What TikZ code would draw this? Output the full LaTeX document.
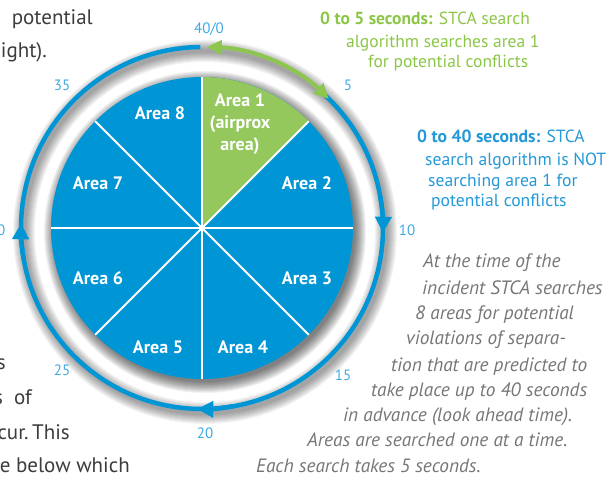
\documentclass[tikz,border=0pt]{standalone}
\usepackage{fontspec}
\setmainfont{PT Sans}
\usetikzlibrary{arrows.meta}

\definecolor{areablue}{RGB}{0,150,214}
\definecolor{areagreen}{RGB}{148,200,92}
\definecolor{arcgreen}{RGB}{140,198,78}
\definecolor{numblue}{RGB}{64,170,226}
\definecolor{txtblue}{RGB}{36,152,216}
\definecolor{txtgreen}{RGB}{140,198,70}
\definecolor{notegrey}{RGB}{118,118,118}
\definecolor{bodygrey}{RGB}{60,60,60}

\tikzset{
  area/.style={text=white, font=\fontsize{18}{22}\selectfont\bfseries, align=center},
  num/.style={text=numblue, font=\fontsize{15}{18}\selectfont},
  ring/.style={areablue, line width=4.5pt},
  ringtip/.style={ring, -{Triangle[length=16pt,width=16pt]}},
  sep/.style={white, line width=2pt},
  greenline/.style={text=txtgreen, font=\fontsize{17.5}{20}\selectfont, anchor=base west, inner sep=0pt},
  blueline/.style={text=txtblue, font=\fontsize{17.6}{20}\selectfont, anchor=base west, inner sep=0pt},
  note/.style={text=notegrey, font=\fontsize{19.3}{22}\selectfont\itshape, anchor=base west, inner sep=0pt},
  body/.style={text=bodygrey, font=\fontsize{21}{24}\selectfont, anchor=base east, inner sep=0pt},
}

\begin{document}
\begin{tikzpicture}[x=1pt,y=1pt]
\useasboundingbox (0,0) rectangle (607,476);
\coordinate (C) at (202,248);

% soft shadow under the pie and the ring
\foreach \i in {1,...,12}
  \fill[black,opacity=0.055] ([shift={(3,-4)}]C) circle ({149+\i});
\foreach \w in {4,6,...,22}
  \draw[black,opacity=0.045,line width=\w pt] ([shift={(3,-4)}]C) circle (181);

% the eight search areas
\fill[areablue] (C) circle (151);
\fill[areagreen] (C) -- ++(45:151) arc (45:90:151) -- cycle;
\foreach \a in {0,45,...,315}
  \draw[sep] (C) -- ++(\a:151);

\node[area] (a1) at (240,352) {Area 1\\(airprox\\area)};
\node[area] (a2) at (307,293) {Area 2};
\node[area] (a3) at (307,198) {Area 3};
\node[area] (a4) at (243,129) {Area 4};
\node[area] (a5) at (158,129) {Area 5};
\node[area] (a6) at (98,198) {Area 6};
\node[area] (a7) at (98,293) {Area 7};
\node[area] (a8) at (160,363) {Area 8};

% time ring, 40 seconds round
\draw[ring] (C) ++(47:181) arc (47:-269.5:181);
\foreach \a in {0,-90,-180}
  \draw[ringtip] (C) ++(\a+10:181) arc (\a+10:\a-1.5:181);
\draw[arcgreen, line width=4pt, {Triangle[length=15pt,width=14pt]}-{Triangle[length=15pt,width=14pt]}]
  (C) ++(88.5:181) arc (88.5:45.5:181);

\node[num] (t0) at (209,447) {40/0};
\node[num] (t5) at (348,391) {5};
\node[num] (t10) at (407,246) {10};
\node[num] (t15) at (343,101) {15};
\node[num] (t20) at (205,43) {20};
\node[num] (t25) at (62,106) {25};
\node[num] (t30) at (-3,246) {30};
\node[num] (t35) at (62,391) {35};

% captions
\node[greenline] (g1) at (320,451) {\textbf{0 to 5 seconds:} STCA search};
\node[greenline] (g2) at (346,428) {algorithm searches area 1};
\node[greenline] (g3) at (368,408) {for potential conflicts};

\node[blueline] (b1) at (417,333) {\textbf{0 to 40 seconds:} STCA};
\node[blueline] (b2) at (425,310) {search algorithm is NOT};
\node[blueline] (b3) at (428,289) {searching area 1 for};
\node[blueline] (b4) at (431,269) {potential conflicts};

\node[note] (n1) at (423,208) {At the time of the};
\node[note] (n2) at (422,181) {incident STCA searches};
\node[note] (n3) at (415,156) {8 areas for potential};
\node[note] (n4) at (406,131) {violations of separa-};
\node[note] (n5) at (391,104) {tion that are predicted to};
\node[note] (n6) at (371,79) {take place up to 40 seconds};
\node[note] (n7) at (343,54) {in advance (look ahead time).};
\node[note] (n8) at (307,29) {Areas are searched one at a time.};
\node[note] (n9) at (256,4) {Each search takes 5 seconds.};

% running text of the page
\node[body] (p1) at (93,451) {potential};
\node[body] (p2) at (47,418) {ight).};
\node[body] (p3) at (6,106) {s};
\node[body] (p4) at (32,71) {s\ \ of};
\node[body] (p5) at (70,36) {cur.\,This};
\node[body] (p6) at (130,3) {e below which};
\end{tikzpicture}
\end{document}
